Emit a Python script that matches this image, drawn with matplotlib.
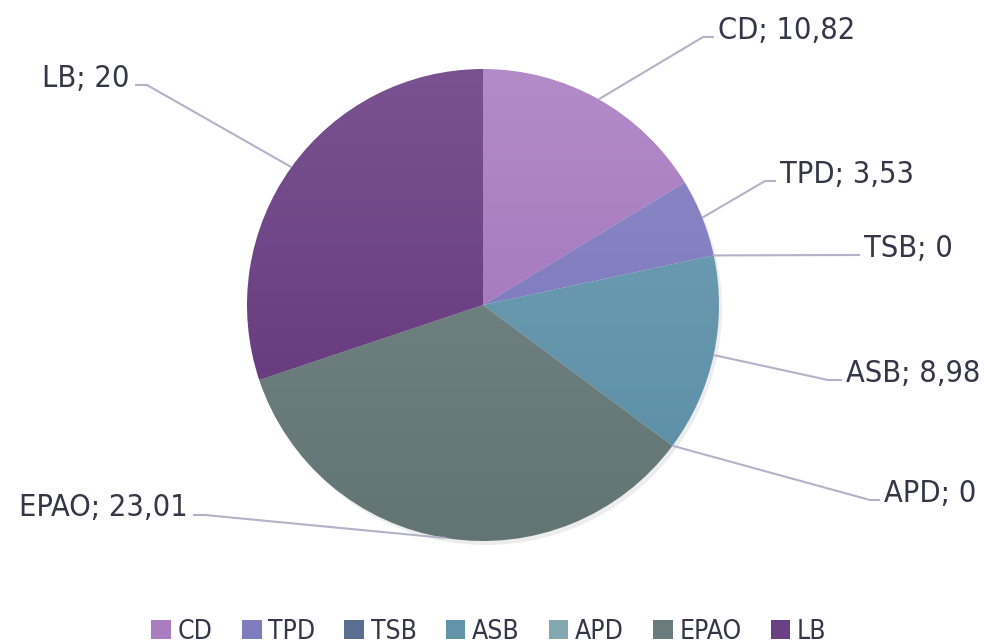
#!/usr/bin/env python3
import numpy as np
import matplotlib
matplotlib.use('Agg')
import matplotlib.pyplot as plt
from matplotlib import font_manager
from matplotlib.patches import Wedge, Rectangle
from matplotlib.colors import LinearSegmentedColormap

categories = ['CD', 'TPD', 'TSB', 'ASB', 'APD', 'EPAO', 'LB']
values = [10.82, 3.53, 0, 8.98, 0, 23.01, 20]
value_labels = ['10,82', '3,53', '0', '8,98', '0', '23,01', '20']

# top / bottom colours of each slice gradient
top_colors = ['#b38bc9', '#8e8ac8', '#5e7298', '#72a2b4', '#8cb0b8', '#788a8a', '#7a5290']
bot_colors = ['#9c6cb4', '#7670b8', '#536890', '#5a8ca6', '#7aa0a8', '#627474', '#5e3278']
legend_colors = ['#a97dc0', '#7f7cc0', '#5a6e92', '#6494ac', '#84a8b0', '#6a7c7c', '#6a4084']

# label layout in pixels: (elbow x, elbow y, line end x, side)
label_layout = [(703, 37, 714, 'L'), (765, 181, 776, 'L'), (860, 255, 860, 'L'),
                (828, 380, 842, 'L'), (870, 500, 880, 'L'), (205, 515, 193, 'R'),
                (147, 85, 135, 'R')]

W, H = 984, 644
CX, CY, R = 483, 305, 236
TXT = '#363648'
LINE = '#b4b2c8'

# look for a narrow face, the original uses a condensed font
narrow = None
for f in font_manager.fontManager.ttflist:
    if 'Narrow' in f.name or (f.name == 'DejaVu Sans' and f.stretch == 'condensed'):
        narrow = f
        break
if narrow is not None:
    fprops = dict(family=narrow.name, stretch=narrow.stretch)
    label_size, legend_size = 22, 19
else:
    fprops = dict(family='DejaVu Sans')
    label_size, legend_size = 20, 16

fig = plt.figure(figsize=(W / 100, H / 100), dpi=100)
fig.patch.set_facecolor('white')
ax = fig.add_axes([0, 0, 1, 1])
ax.set_xlim(0, W)
ax.set_ylim(H, 0)
ax.axis('off')

total = sum(values)
start = 0.0
grad = np.linspace(0, 1, 256).reshape(-1, 1)
for i, v in enumerate(values):
    sweep = v / total * 360
    mid = start + sweep / 2
    if v > 0:
        # angles measured clockwise from the top
        t1 = 90 - (start + sweep)
        t2 = 90 - start
        sh = Wedge((CX + 3, CY + 4), R, -t2, -t1, facecolor='#000000', alpha=0.07,
                   edgecolor='none', zorder=1)
        ax.add_patch(sh)
        w = Wedge((CX, CY), R, -t2, -t1, facecolor='none', edgecolor='none', zorder=2)
        ax.add_patch(w)
        cmap = LinearSegmentedColormap.from_list('g%d' % i, [top_colors[i], bot_colors[i]])
        im = ax.imshow(grad, cmap=cmap, aspect='auto',
                       extent=[CX - R, CX + R, CY + R, CY - R], zorder=2,
                       interpolation='bilinear')
        im.set_clip_path(w)

    # leader line
    ang = np.radians(mid)
    ax0 = CX + R * np.sin(ang)
    ay0 = CY - R * np.cos(ang)
    ex, ey, lx, side = label_layout[i]
    ax.plot([ax0, ex, lx], [ay0, ey, ey], color=LINE, lw=1.5, zorder=3,
            solid_capstyle='butt')
    text = '%s; %s' % (categories[i], value_labels[i])
    if side == 'L':
        ax.text(lx + 4, ey - 7, text, ha='left', va='center', fontsize=label_size,
                color=TXT, **fprops)
    else:
        ax.text(lx - 5, ey - 7, text, ha='right', va='center', fontsize=label_size,
                color=TXT, **fprops)
    start += sweep

# legend
handles = [Rectangle((0, 0), 1, 1, facecolor=legend_colors[i], edgecolor='none')
           for i in range(len(categories))]
fig.legend(handles, categories, loc='center', bbox_to_anchor=(489 / W, 1 - 632 / H),
           ncol=len(categories), frameon=False, handlelength=0.75,
           handleheight=0.75, handletextpad=0.25, columnspacing=1.1,
           labelcolor=TXT, prop=font_manager.FontProperties(size=legend_size, **fprops))

fig.savefig('out.png', dpi=100, facecolor='white')
